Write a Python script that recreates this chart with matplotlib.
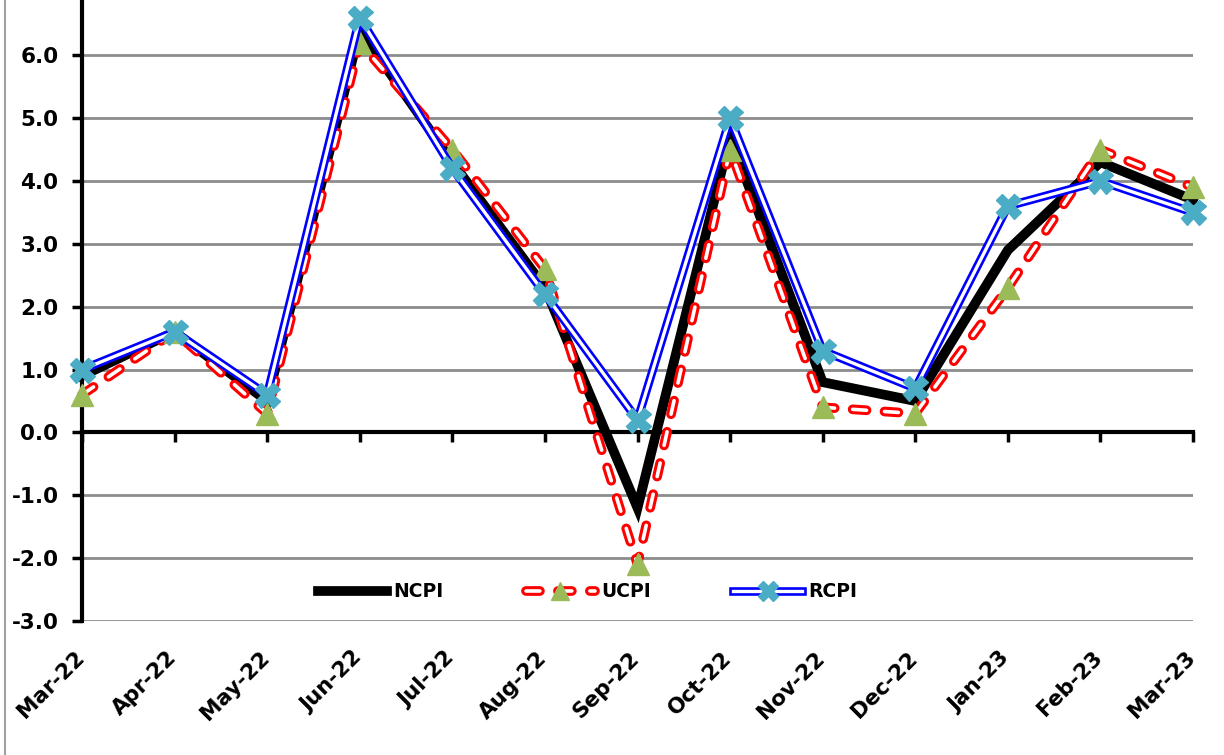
import matplotlib
matplotlib.use("Agg")
import matplotlib.pyplot as plt
from matplotlib.lines import Line2D
from matplotlib.legend_handler import HandlerTuple

plt.rcParams['font.family'] = ['DejaVu Sans']
plt.rcParams['lines.scale_dashes'] = False

# Dados (variação mensal, %)
meses = ['Mar-22', 'Apr-22', 'May-22', 'Jun-22', 'Jul-22', 'Aug-22', 'Sep-22',
         'Oct-22', 'Nov-22', 'Dec-22', 'Jan-23', 'Feb-23', 'Mar-23']
ncpi = [0.9, 1.6, 0.5, 6.4, 4.3, 2.3, -1.2, 4.7, 0.8, 0.5, 2.9, 4.3, 3.7]
ucpi = [0.6, 1.6, 0.3, 6.2, 4.5, 2.6, -2.1, 4.5, 0.4, 0.3, 2.3, 4.5, 3.9]
rcpi = [1.0, 1.6, 0.6, 6.6, 4.2, 2.2, 0.2, 5.0, 1.3, 0.7, 3.6, 4.0, 3.5]
y_ticks = [-3, -2, -1, 0, 1, 2, 3, 4, 5, 6]

fig = plt.figure(figsize=(12.24, 7.55), dpi=100)
ax = fig.add_axes([82 / 1224, 134 / 755, 1111 / 1224, 621 / 755])

x = list(range(len(meses)))

# NCPI - linha preta grossa
l_n, = ax.plot(x, ncpi, color='black', lw=7, solid_joinstyle='miter', marker='d',
               markersize=3, zorder=3, clip_on=False)

# UCPI - tracejado vermelho com miolo branco + triângulos verdes
dash = (0, (10, 13))
l_u1, = ax.plot(x, ucpi, color='#ff0000', lw=7, ls=dash, dash_capstyle='round',
                zorder=4, clip_on=False)
l_u2, = ax.plot(x, ucpi, color='white', lw=2.6, ls=dash, dash_capstyle='round',
                zorder=4.1, clip_on=False)
ax.plot(x, ucpi, ls='none', marker='^', markersize=16, color='#9bbb59',
        markeredgecolor='#9bbb59', zorder=4.2, clip_on=False)

# RCPI - linha azul dupla + X ciano
l_r1, = ax.plot(x, rcpi, color='#0000ff', lw=6.2, zorder=5, clip_on=False)
l_r2, = ax.plot(x, rcpi, color='white', lw=2.4, zorder=5.1, clip_on=False)
ax.plot(x, rcpi, ls='none', marker='X', markersize=18, color='#4bacc6',
        markeredgecolor='#4bacc6', zorder=5.2, clip_on=False)

ax.set_xlim(0, 12)
ax.set_ylim(-3, 6.88)
ax.set_yticks(y_ticks)
ax.set_yticklabels([f'{v:.1f}' for v in y_ticks], fontsize=15.5, fontweight='bold')
ax.yaxis.grid(True, color='#8c8c8c', lw=2)
ax.set_axisbelow(True)

ax.spines['top'].set_visible(False)
ax.spines['right'].set_visible(False)
ax.spines['left'].set_linewidth(3)
ax.spines['bottom'].set_linewidth(3)
ax.spines['bottom'].set_position(('data', 0))
ax.spines['bottom'].set_zorder(2.5)

ax.set_xticks(x)
ax.tick_params(axis='x', direction='out', length=7, width=2.5, labelbottom=False)
ax.tick_params(axis='y', direction='out', length=7, width=2.5, pad=10)

# rótulos do eixo x na parte de baixo
for i, m in enumerate(meses):
    ax.text(i - 0.09, -0.043, m, transform=ax.get_xaxis_transform(), rotation=45,
            rotation_mode='anchor', ha='right', va='top', fontsize=15.5, fontweight='bold')

# marcadores menores na legenda
m_u_leg = Line2D([], [], ls='none', marker='^', markersize=13, color='#9bbb59')
m_r_leg = Line2D([], [], ls='none', marker='X', markersize=14, color='#4bacc6')

leg = ax.legend([l_n, (l_u1, l_u2, m_u_leg), (l_r1, l_r2, m_r_leg)], ['NCPI', 'UCPI', 'RCPI'],
                handler_map={tuple: HandlerTuple(ndivide=1)}, loc='center',
                bbox_to_anchor=(0.455, 0.047), ncol=3, frameon=False, handlelength=3.7,
                handletextpad=0.3, columnspacing=4.4, prop={'weight': 'bold', 'size': 13.5})

fig.add_artist(Line2D([0.004, 0.004], [0, 1], transform=fig.transFigure,
                      color='#a0a0a0', lw=1.5))

plt.savefig('out.png', dpi=100)
plt.close(fig)
